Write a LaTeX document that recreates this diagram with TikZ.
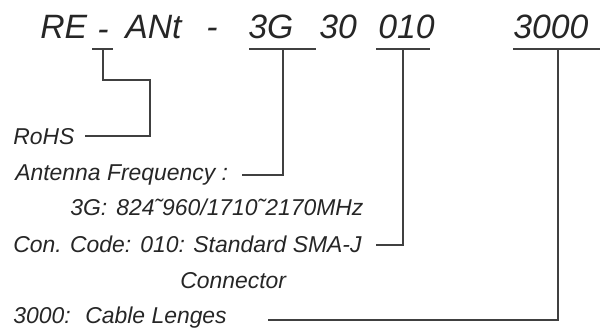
\documentclass[tikz,border=0pt]{standalone}
\usepackage{fontspec}
\setmainfont{Liberation Sans}
\begin{document}
\begin{tikzpicture}[x=0.025cm,y=-0.025cm,
  code/.style={anchor=base west,inner sep=0pt,text=black!85,
    font=\fontsize{24}{28}\selectfont\itshape},
  lbl/.style={anchor=base west,inner sep=0pt,text=black!85,
    font=\fontsize{16.3}{19}\selectfont\itshape},
  lead/.style={line width=1.4pt,draw=black!75}]
\useasboundingbox (0,0) rectangle (600,329);

% part number
\node[code] (tRE) at (40,38) {RE};
\node[code] (tDashA) at (97,40) {-};
\node[code] (tANt) at (125,38) {ANt};
\node[code] (tDashB) at (206,38) {-};
\node[code] (t3G) at (248,38) {3G};
\node[code] (t30) at (319,38) {30};
\node[code] (t010) at (378,38) {010};
\node[code] (t3000) at (513,38) {3000};

% meanings
\node[lbl] (lRoHS) at (13,144) {RoHS};
\node[lbl] (lFreq) at (15,180) {Antenna Frequency :};
\node[lbl] (lBand) at (70,215) {\makebox[1.15cm][l]{3G:}824˜960/1710˜2170MHz};
\node[lbl] (lCon) at (13,252) {\makebox[3.175cm][l]{Con. Code:}010: Standard SMA-J};
\node[lbl] (lConB) at (180,288) {Connector};
\node[lbl] (lCable) at (13,323) {\makebox[1.8cm][l]{3000:}Cable Lenges};

% RoHS
\coordinate (ulA) at (92,49);
\coordinate (ulB) at (113,49);
\coordinate (kA) at (103,49);
\coordinate (kB) at (150,80);
\coordinate (eRoHS) at (85,136);
\draw[lead] (ulA) -- (ulB);
\draw[lead] (kA) |- (kB) |- (eRoHS);

% frequency
\coordinate (ulC) at (249,49);
\coordinate (ulD) at (316,49);
\coordinate (kC) at (283,49);
\coordinate (eFreq) at (242,175);
\draw[lead] (ulC) -- (ulD);
\draw[lead] (kC) |- (eFreq);

% connector
\coordinate (ulE) at (376,49);
\coordinate (ulF) at (430,49);
\coordinate (kE) at (403,49);
\coordinate (eCon) at (376,245);
\draw[lead] (ulE) -- (ulF);
\draw[lead] (kE) |- (eCon);

% cable
\coordinate (ulG) at (513,49);
\coordinate (ulH) at (600,49);
\coordinate (kG) at (558,49);
\coordinate (eCable) at (268,320);
\draw[lead] (ulG) -- (ulH);
\draw[lead] (kG) |- (eCable);
\end{tikzpicture}
\end{document}
